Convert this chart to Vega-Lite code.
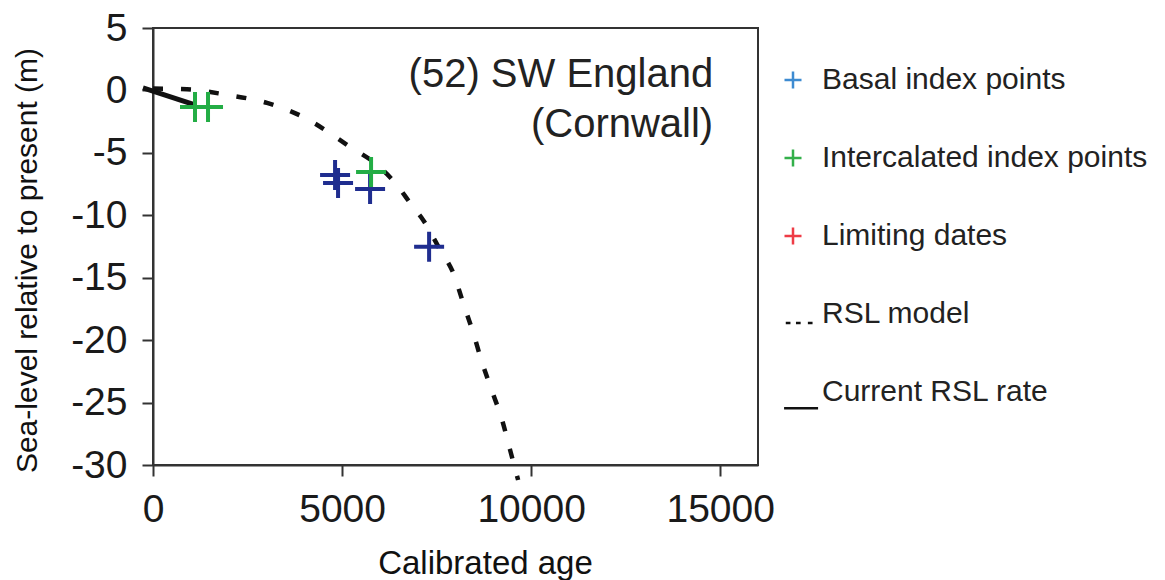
{
  "$schema": "https://vega.github.io/schema/vega-lite/v6.json",
  "width": 605,
  "height": 437,
  "autosize": {"type": "none"},
  "padding": {"left": 153, "top": 28, "right": 407, "bottom": 115},
  "background": "white",
  "config": {
    "font": "Liberation Sans",
    "view": {"stroke": "#333333", "strokeWidth": 2},
    "axis": {
      "grid": false,
      "domainColor": "#333333",
      "domainWidth": 2,
      "tickColor": "#333333",
      "tickWidth": 2,
      "tickSize": 11,
      "labelFont": "Liberation Sans",
      "labelFontSize": 39,
      "labelColor": "#1a1a1a",
      "labelFlush": false,
      "labelOverlap": false,
      "titleFont": "Liberation Sans",
      "titleFontWeight": "normal",
      "titleColor": "#111111"
    }
  },
  "datasets": {
    "points": [
      {"type": "Basal index points", "age": 4815, "rsl": -6.77},
      {"type": "Basal index points", "age": 4894, "rsl": -7.41},
      {"type": "Basal index points", "age": 5741, "rsl": -7.89},
      {"type": "Basal index points", "age": 7302, "rsl": -12.53},
      {"type": "Intercalated index points", "age": 1111, "rsl": -1.33},
      {"type": "Intercalated index points", "age": 1455, "rsl": -1.33},
      {"type": "Intercalated index points", "age": 5767, "rsl": -6.53}
    ],
    "model": [
      {"age": 0, "rsl": 0.15},
      {"age": 899, "rsl": 0.1},
      {"age": 1958, "rsl": -0.36},
      {"age": 3016, "rsl": -1.0},
      {"age": 3968, "rsl": -2.12},
      {"age": 5212, "rsl": -4.52},
      {"age": 5926, "rsl": -5.96},
      {"age": 6402, "rsl": -7.4},
      {"age": 6878, "rsl": -9.33},
      {"age": 7143, "rsl": -10.37},
      {"age": 7593, "rsl": -12.77},
      {"age": 7937, "rsl": -14.6},
      {"age": 8201, "rsl": -17.0},
      {"age": 8466, "rsl": -19.4},
      {"age": 8704, "rsl": -21.8},
      {"age": 8968, "rsl": -24.1},
      {"age": 9233, "rsl": -26.4},
      {"age": 9444, "rsl": -28.8},
      {"age": 9656, "rsl": -31.2}
    ],
    "rate": [
      {"age": -265, "rsl": 0.2},
      {"age": 1111, "rsl": -1.16}
    ],
    "labels": [
      {"age": 14815, "rsl": 0.28, "text": "(52) SW England"},
      {"age": 14815, "rsl": -3.73, "text": "(Cornwall)"}
    ]
  },
  "layer": [
    {
      "data": {"name": "model"},
      "mark": {"type": "line", "color": "#111111", "strokeWidth": 4.5, "strokeDash": [10, 18], "interpolate": "monotone"},
      "encoding": {
        "x": {"field": "age", "type": "quantitative", "scale": {"domain": [0, 16000], "nice": false, "zero": false},
          "axis": {"values": [0, 5000, 10000, 15000], "format": "d", "labelPadding": 14, "title": "Calibrated age", "titleFontSize": 33, "titleX": 332, "titleY": 98, "titleBaseline": "middle"}},
        "y": {"field": "rsl", "type": "quantitative", "scale": {"domain": [-30, 5], "nice": false, "zero": false},
          "axis": {"values": [5, 0, -5, -10, -15, -20, -25, -30], "labelExpr": "'' + datum.value", "labelPadding": 15, "title": "Sea-level relative to present (m)", "titleFontSize": 30, "titleX": -126, "titleY": 232, "titleBaseline": "middle", "titleAlign": "center"}},
        "order": {"field": "age", "type": "quantitative"}
      }
    },
    {
      "data": {"name": "rate"},
      "mark": {"type": "line", "color": "#111111", "strokeWidth": 5},
      "encoding": {
        "x": {"field": "age", "type": "quantitative"},
        "y": {"field": "rsl", "type": "quantitative"}
      }
    },
    {
      "data": {"name": "points"},
      "mark": {"type": "point", "filled": false, "strokeWidth": 4, "size": 900, "opacity": 1, "shape": "M-1,0H1M0,-1V1"},
      "encoding": {
        "x": {"field": "age", "type": "quantitative"},
        "y": {"field": "rsl", "type": "quantitative"},
        "stroke": {
          "field": "type", "type": "nominal",
          "scale": {
            "domain": ["Basal index points", "Intercalated index points"],
            "range": ["#1f2d8f", "#23ad45"]
          },
          "legend": null
        }
      }
    },
    {
      "data": {"name": "points"},
      "transform": [{"filter": "datum.age < -1000000"}],
      "mark": {"type": "point", "filled": false, "strokeWidth": 2.5, "opacity": 1},
      "encoding": {
        "x": {"field": "age", "type": "quantitative"},
        "y": {"field": "rsl", "type": "quantitative"},
        "color": {
          "field": "type", "type": "nominal",
          "scale": {
            "domain": ["Basal index points", "Intercalated index points", "Limiting dates", "RSL model", "Current RSL rate"],
            "range": ["#3d8bd1", "#33b04a", "#ee3c46", "#111111", "#111111"]
          },
          "legend": {
            "title": null,
            "orient": "none",
            "legendX": 625,
            "legendY": 37,
            "padding": 0,
            "symbolSize": 289,
            "symbolStrokeWidth": 2.5,
            "labelFontSize": 30,
            "labelFont": "Liberation Sans",
            "labelColor": "#222222",
            "labelOffset": 14,
            "rowPadding": 48,
            "labelLimit": 500
          }
        },
        "shape": {
          "field": "type", "type": "nominal",
          "scale": {
            "domain": ["Basal index points", "Intercalated index points", "Limiting dates", "RSL model", "Current RSL rate"],
            "range": ["M-1,0H1M0,-1V1", "M-1,0H1M0,-1V1", "M-1,0H1M0,-1V1", "M-0.85,1.05H-0.3M0.35,1.05H0.9M1.75,1.05H2.3", "M-1.05,1.9H2.95"]
          }
        }
      }
    },
    {
      "data": {"name": "labels"},
      "mark": {"type": "text", "align": "right", "baseline": "alphabetic", "fontSize": 40, "font": "Liberation Sans", "color": "#222222"},
      "encoding": {
        "x": {"field": "age", "type": "quantitative"},
        "y": {"field": "rsl", "type": "quantitative"},
        "text": {"field": "text", "type": "nominal"}
      }
    }
  ]
}
